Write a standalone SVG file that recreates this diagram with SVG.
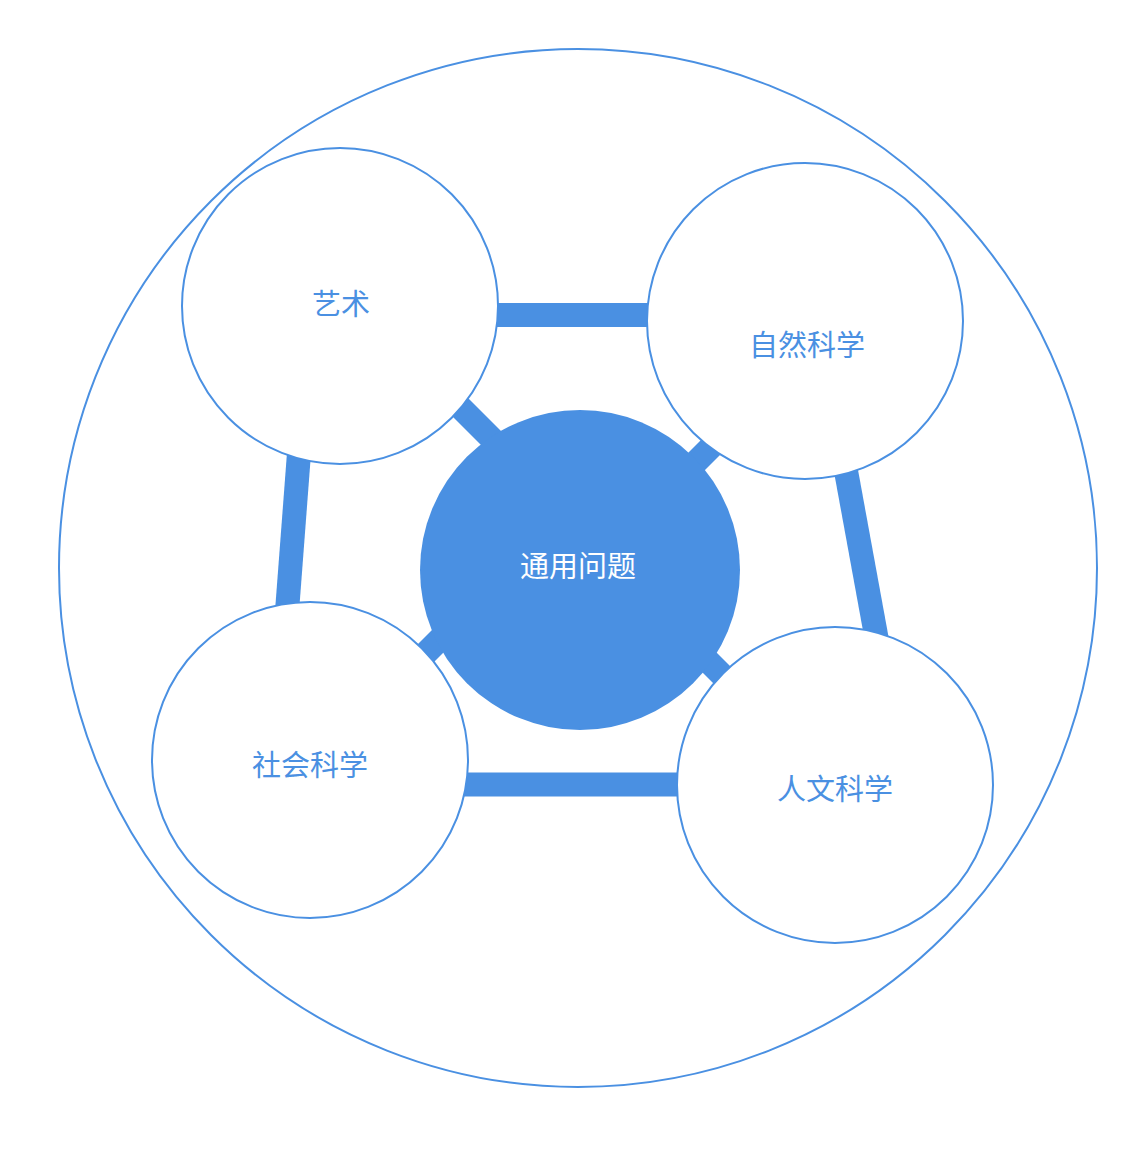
<svg xmlns="http://www.w3.org/2000/svg" width="1142" height="1156" viewBox="0 0 1142 1156">
<style>
.ring{fill:#fff;stroke:#4a90e2;stroke-width:2}
.bar{stroke:#4a90e2;stroke-width:24;fill:none}
.lbl{font-family:"Liberation Sans","Noto Sans CJK SC",sans-serif;font-size:29px;fill:#4a90e2;text-anchor:middle;dominant-baseline:central}
.ctr{fill:#4a90e2}
.ctrl{font-family:"Liberation Sans","Noto Sans CJK SC",sans-serif;font-size:29px;fill:#fff;text-anchor:middle;dominant-baseline:central}
</style>
<rect width="1142" height="1156" fill="#fff"/>
<g id="outer"><circle cx="578" cy="568" r="519" class="ring"/></g>
<g id="connectors">
<line class="bar" x1="490" y1="315" x2="656" y2="315"/>
<line class="bar" x1="300" y1="440" x2="286.5" y2="618"/>
<line class="bar" x1="844" y1="460" x2="878" y2="646"/>
<line class="bar" x1="460" y1="784.5" x2="686" y2="784.5"/>
<line class="bar" x1="440" y1="387" x2="520" y2="467"/>
<line class="bar" x1="725" y1="433" x2="660" y2="498"/>
<line class="bar" x1="680" y1="633" x2="745" y2="698"/>
<line class="bar" x1="400" y1="679" x2="470" y2="609"/>
</g>
<g id="center"><circle cx="580" cy="570" r="160" class="ctr"/><text x="578" y="567" class="ctrl">通用问题</text></g>
<g id="art"><circle cx="340" cy="306" r="158" class="ring"/><text x="341" y="305" class="lbl">艺术</text></g>
<g id="natural"><circle cx="805" cy="321" r="158" class="ring"/><text x="807" y="346" class="lbl">自然科学</text></g>
<g id="social"><circle cx="310" cy="760" r="158" class="ring"/><text x="310" y="766" class="lbl">社会科学</text></g>
<g id="humanities"><circle cx="835" cy="785" r="158" class="ring"/><text x="835" y="790" class="lbl">人文科学</text></g>
</svg>
